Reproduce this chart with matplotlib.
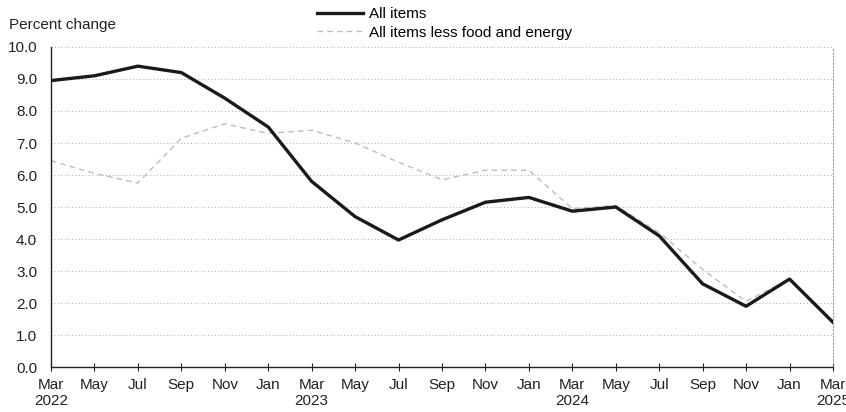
import matplotlib.pyplot as plt
import numpy as np

plt.rcParams['font.family'] = ['Liberation Sans', 'DejaVu Sans']

# bimonthly readings, Mar 2022 .. Mar 2025
tick_labels = ["Mar\n2022", "May", "Jul", "Sep", "Nov", "Jan",
               "Mar\n2023", "May", "Jul", "Sep", "Nov", "Jan",
               "Mar\n2024", "May", "Jul", "Sep", "Nov", "Jan",
               "Mar\n2025"]
all_items = [8.95, 9.1, 9.4, 9.2, 8.4, 7.5, 5.8, 4.7, 3.97, 4.6, 5.15, 5.3,
             4.87, 5.0, 4.1, 2.6, 1.9, 2.75, 1.4]
core = [6.45, 6.05, 5.75, 7.15, 7.6, 7.3, 7.4, 7.0, 6.4, 5.85, 6.15, 6.15,
        4.95, 5.05, 4.2, 3.05, 2.05, 2.75, 1.4]
y_ticks = [0.0, 1.0, 2.0, 3.0, 4.0, 5.0, 6.0, 7.0, 8.0, 9.0, 10.0]

months = np.arange(len(tick_labels)) * 2

fig = plt.figure(figsize=(8.46, 4.12), dpi=100)
ax = fig.add_axes([0.0603, 0.109, 0.9243, 0.777])

ax.plot(months, all_items, color='#1a1a1a', lw=2.4, label='All items',
        zorder=3)
ax.plot(months, core, color='#bdbdbd', lw=1.0, ls=(0, (4, 3)),
        label='All items less food and energy', zorder=2)

ax.set_xlim(months[0], months[-1])
ax.set_ylim(0, 10)
ax.set_yticks(y_ticks)
ax.set_yticklabels([f"{v:.1f}" for v in y_ticks])
ax.set_xticks(months)
ax.set_xticklabels(tick_labels, linespacing=1.2)

ax.tick_params(axis='y', length=0, labelsize=11, pad=10, colors='#222222')
ax.tick_params(axis='x', direction='inout', length=6, width=0.8,
               labelsize=11, pad=5, colors='#222222')

for y in y_ticks[1:]:
    ax.axhline(y, color='#aaaaaa', lw=0.7, ls=(0, (1, 2.5)), zorder=1)

ax.spines['top'].set_visible(False)
ax.spines['right'].set_color('#999999')
ax.spines['right'].set_linestyle((0, (1, 2)))
ax.spines['right'].set_linewidth(0.8)
for s in ['left', 'bottom']:
    ax.spines[s].set_color('#222222')
    ax.spines[s].set_linewidth(1.0)

fig.text(9 / 846, 1 - 29 / 412, "Percent change", fontsize=11,
         color='#222222')

fig.legend(loc='upper left', bbox_to_anchor=(308 / 846, 1.005), frameon=False,
           fontsize=11, handlelength=3.0, handletextpad=0.4,
           labelspacing=0.3, borderpad=0.1)

fig.savefig('out.png', dpi=100)
